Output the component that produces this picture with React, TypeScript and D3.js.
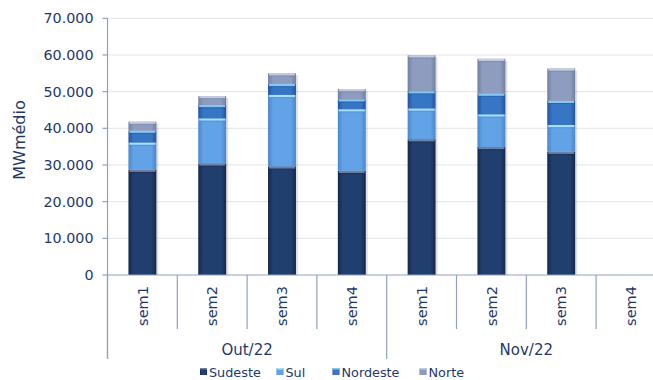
import React from "react";
import * as d3 from "d3";

const weeks = ["sem1", "sem2", "sem3", "sem4", "sem1", "sem2", "sem3", "sem4"];
const months = ["Out/22", "Nov/22"];
const seriesNames = ["Sudeste", "Sul", "Nordeste", "Norte"];
const sudeste = [28700, 30400, 29600, 28400, 37000, 34900, 33600, 0];
const sul = [7400, 12300, 19500, 16800, 8400, 8900, 7300, 0];
const nordeste = [3250, 3650, 3000, 2700, 4700, 5650, 6600, 0];
const norte = [2450, 2450, 2900, 2800, 9800, 9500, 8800, 0];
const yTicks = [0, 10000, 20000, 30000, 40000, 50000, 60000, 70000];

const W = 653;
const H = 380;
const FONT = "'DejaVu Sans', Verdana, sans-serif";
const TEXT = "#1F3868";
const AXIS = "#8FA0C2";

const palette = [
  { id: "sud", edge: "#15284A", mid: "#213F6E", hi: "#6C7FA0" },
  { id: "sul", edge: "#4A86CC", mid: "#62A2E6", hi: "#A8E0FF" },
  { id: "nor", edge: "#2354A0", mid: "#3676C4", hi: "#86C8F4" },
  { id: "nte", edge: "#71809F", mid: "#8E9CC0", hi: "#C3CCDF" },
];

export default function App() {
  const data = [sudeste, sul, nordeste, norte];
  const rows = weeks.map((w, i) => ({
    i,
    Sudeste: sudeste[i],
    Sul: sul[i],
    Nordeste: nordeste[i],
    Norte: norte[i],
  }));
  const stacked = d3.stack<any>().keys(seriesNames)(rows);

  const left = 107.5;
  const step = 69.8;
  const x = d3
    .scaleBand<number>()
    .domain(weeks.map((_, i) => i))
    .range([left, left + step * weeks.length])
    .paddingInner(0.6)
    .paddingOuter(0.3);
  const y = d3.scaleLinear().domain([0, 70000]).range([275, 18.3]);
  const y0 = y(0);

  const boundaries = d3.range(weeks.length + 1).map((i) => left + i * x.step());

  return (
    <div style={{ position: "fixed", left: 0, top: 0 }}>
      <svg width={W} height={H} style={{ display: "block", background: "#fff" }}>
        <defs>
          {palette.map((p) => (
            <linearGradient key={p.id} id={"g_" + p.id} x1="0" x2="1" y1="0" y2="0">
              <stop offset="0" stopColor={p.edge} />
              <stop offset="0.18" stopColor={p.mid} />
              <stop offset="0.82" stopColor={p.mid} />
              <stop offset="1" stopColor={p.edge} />
            </linearGradient>
          ))}
        </defs>

        {/* gridlines */}
        {yTicks.slice(1).map((t) => (
          <line key={"g" + t} x1={left} x2={W} y1={y(t)} y2={y(t)} stroke="#E4E4E4" strokeWidth={1} />
        ))}

        {/* bars */}
        {weeks.map((_, i) => {
          const bx = x(i)!;
          const bw = x.bandwidth();
          const total = stacked[3][i][1];
          if (total <= 0) return null;
          return (
            <g key={"b" + i}>
              <rect x={bx + 2} y={y(total) + 2} width={bw} height={y0 - y(total) - 2} fill="#000" opacity={0.12} />
              {stacked.map((s, si) => {
                const top = y(s[i][1]);
                const bot = y(s[i][0]);
                const h = bot - top;
                if (h <= 0) return null;
                const p = palette[si];
                return (
                  <g key={si}>
                    <rect x={bx} y={top} width={bw} height={h} fill={`url(#g_${p.id})`} />
                    <rect x={bx + 1} y={top} width={bw - 2} height={Math.min(2.2, h)} fill={p.hi} />
                    <rect x={bx + 1} y={top + 2.2} width={bw - 2} height={Math.min(1, h)} fill={p.edge} opacity={0.5} />
                  </g>
                );
              })}
            </g>
          );
        })}

        {/* y axis */}
        <line x1={left} x2={left} y1={y(70000)} y2={359} stroke={AXIS} strokeWidth={1.2} />
        {yTicks.map((t) => (
          <g key={"t" + t}>
            <line x1={left - 5} x2={left} y1={y(t)} y2={y(t)} stroke={AXIS} strokeWidth={1.2} />
            <text x={93.5} y={y(t)} dy="0.36em" textAnchor="end" fontFamily={FONT} fontSize={14.3} fill={TEXT}>
              {d3.format(",")(t).replace(/,/g, ".")}
            </text>
          </g>
        ))}
        <text
          transform={`translate(25,140) rotate(-90)`}
          textAnchor="middle"
          fontFamily={FONT}
          fontSize={16}
          fill={TEXT}
        >
          MWmédio
        </text>

        {/* x axis */}
        <line x1={left} x2={W} y1={y0} y2={y0} stroke={AXIS} strokeWidth={1.2} />
        {boundaries.map((bx, i) => (
          <line
            key={"d" + i}
            x1={bx}
            x2={bx}
            y1={y0}
            y2={i % 4 === 0 ? 359 : 329}
            stroke={AXIS}
            strokeWidth={1.2}
          />
        ))}
        {weeks.map((w, i) => (
          <text
            key={"w" + i}
            transform={`translate(${x(i)! + x.bandwidth() / 2},${306}) rotate(-90)`}
            textAnchor="middle"
            dy="0.36em"
            fontFamily={FONT}
            fontSize={14.5}
            fill={TEXT}
          >
            {w}
          </text>
        ))}
        {months.map((m, mi) => (
          <text
            key={m}
            x={(boundaries[mi * 4] + boundaries[mi * 4 + 4]) / 2}
            y={350}
            dy="0.36em"
            textAnchor="middle"
            fontFamily={FONT}
            fontSize={15}
            fill={TEXT}
          >
            {m}
          </text>
        ))}

        {/* legend */}
        {seriesNames.map((name, si) => {
          const lx = [200, 276.5, 332.5, 419.5][si];
          const p = palette[si];
          return (
            <g key={name}>
              <rect x={lx} y={368} width={7} height={7} fill={`url(#g_${p.id})`} />
              <rect x={lx} y={368} width={7} height={1.5} fill={p.hi} />
              <text x={lx + 9} y={372} dy="0.36em" fontFamily={FONT} fontSize={12.8} fill={TEXT}>
                {name}
              </text>
            </g>
          );
        })}
      </svg>
    </div>
  );
}
